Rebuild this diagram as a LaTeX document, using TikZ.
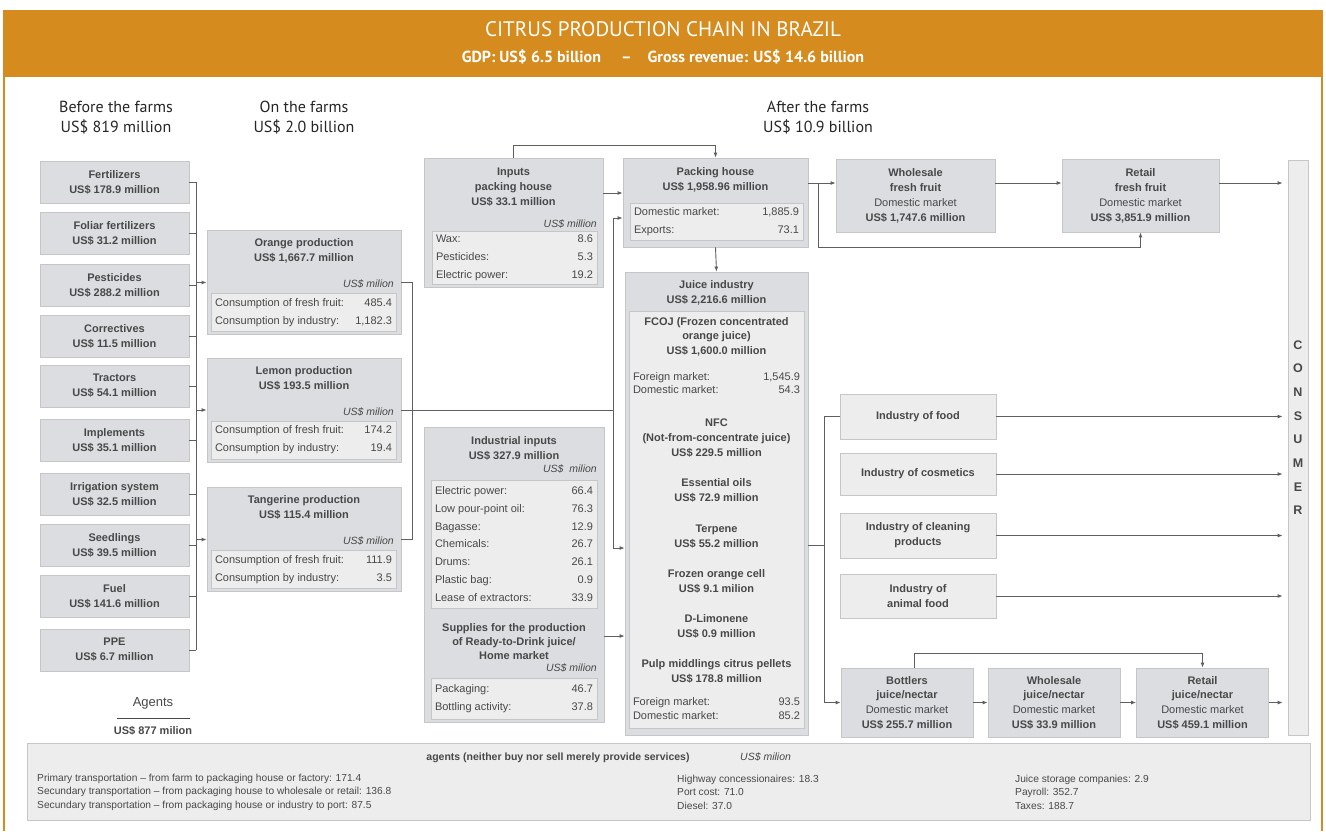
\documentclass[tikz,border=0pt]{standalone}
\usepackage{fontspec}
\setmainfont{Liberation Sans}
\newfontfamily\headfont{PT Sans}
\usetikzlibrary{arrows.meta, positioning, calc}
\definecolor{hdorange}{RGB}{213,139,30}
\definecolor{boxfill}{RGB}{219,221,224}
\definecolor{tabfill}{RGB}{237,237,237}
\definecolor{boxline}{RGB}{196,198,200}
\definecolor{txt}{RGB}{72,72,72}
\definecolor{wirec}{RGB}{95,95,95}
\newcommand{\trow}[3]{\makebox[#1]{#2\hfill #3}}

\begin{document}
\begin{tikzpicture}[x=1pt, y=-1pt,
  every node/.style={inner sep=0pt, align=center, text=txt, font=\fontsize{11}{15}\selectfont},
  box/.style={draw=boxline, fill=boxfill, line width=0.8pt},
  tab/.style={draw=boxline, fill=tabfill, line width=0.6pt, font=\fontsize{11}{18}\selectfont},
  lbox/.style={box, minimum width=149pt, minimum height=42pt, font=\bfseries\fontsize{11}{15}\selectfont},
  ibox/.style={draw=boxline, fill=tabfill, line width=0.8pt, minimum width=156pt, font=\bfseries\fontsize{11}{15}\selectfont},
  hd/.style={font=\bfseries\fontsize{11}{15}\selectfont},
  unit/.style={anchor=east, font=\itshape\fontsize{10.5}{12}\selectfont},
  wire/.style={draw=wirec, line width=0.9pt},
  arr/.style={wire, -{Latex[length=5pt,width=4pt]}},
  stage/.style={text=black!85, font=\headfont\fontsize{16}{20}\selectfont}]

\useasboundingbox (0,0) rectangle (1326,831);
\fill[white] (0,0) rectangle (1326,831);

% header
\fill[hdorange] (4,10) rectangle (1322,77);
\draw[hdorange, line width=2pt] (4,10) -- (4,831) (1322,10) -- (1322,831);
\node[text=white, font=\headfont\fontsize{21}{22}\selectfont] (title) at (663,29) {CITRUS PRODUCTION CHAIN IN BRAZIL};
\node[text=white, font=\headfont\bfseries\fontsize{16}{18}\selectfont] (sub) at (663,57) {GDP: US\$ 6.5 billion \quad–\quad Gross revenue: US\$ 14.6 billion};

\node[stage] (before) at (116,117.5) {Before the farms\\US\$ 819 million};
\node[stage] (onfarm) at (304,117.5) {On the farms\\US\$ 2.0 billion};
\node[stage] (after) at (818,117.5) {After the farms\\US\$ 10.9 billion};

% before the farms
\foreach \nm/\ttl/\val/\yy in {fert/Fertilizers/178.9/182, fol/Foliar fertilizers/31.2/233, pest/Pesticides/288.2/285, corr/Correctives/11.5/336, trac/Tractors/54.1/386, impl/Implements/35.1/440, irr/Irrigation system/32.5/494, seed/Seedlings/39.5/545, fuel/Fuel/141.6/596, ppe/PPE/6.7/650}
  \node[lbox] (\nm) at (114.5,\yy) {\ttl\\US\$ \val\ million};

\node (agt) at (153,703) [font=\fontsize{13}{13}\selectfont] {Agents};
\draw[txt, line width=0.6pt] (117,718) -- (190,718);
\node[hd] (agtv) at (153,731) {US\$ 877 milion};

% on the farms
\foreach \nm/\ttl/\val/\yy/\fr/\ind in {{orange/Orange/1,667.7/282.5/485.4/1,182.3}, {lemon/Lemon/193.5/410/174.2/19.4}, {tang/Tangerine/115.4/539.5/111.9/3.5}} {
  \node[box, minimum width=194pt, minimum height=104pt] (\nm) at (304,\yy) {};
  \node[hd] (\nm-h) at (304,\yy-32) {\ttl\ production\\US\$ \val\ million};
  \node[unit] (\nm-u) at (394,\yy+1.5) {US\$ milion};
  \node[tab, minimum width=185pt, minimum height=38pt] (\nm-t) at (303.5,\yy+30) {\trow{177pt}{Consumption of fresh fruit:}{\fr}\\\trow{177pt}{Consumption by industry:}{\ind}};
}

\coordinate (lbus) at (196,0);
\foreach \nm in {fert,fol,pest,corr,trac,impl,irr,seed,fuel,ppe}
  \draw[wire] (\nm.east) -- (\nm.east -| lbus);
\draw[wire] (fert.east -| lbus) -- (ppe.east -| lbus);
\foreach \nm in {orange,lemon,tang}
  \draw[arr] (\nm.west -| lbus) -- (\nm.west);

% after the farms
\node[box, minimum width=179pt, minimum height=129pt] (ipack) at (513.5,222.5) {};
\node[hd] (ipack-h) at (513.5,187) {Inputs\\packing house\\US\$ 33.1 million};
\node[unit] (ipack-u) at (597,224) {US\$ million};
\node[tab, minimum width=165pt, minimum height=53pt] (ipack-t) at (514.5,258) {\trow{157pt}{Wax:}{8.6}\\\trow{157pt}{Pesticides:}{5.3}\\\trow{157pt}{Electric power:}{19.2}};

\node[box, minimum width=185pt, minimum height=89pt] (pack) at (715.5,202.5) {};
\node[hd] (pack-h) at (715.5,179.5) {Packing house\\US\$ 1,958.96 million};
\node[tab, minimum width=173pt, minimum height=37pt] (pack-t) at (716.5,221.5) {\trow{165pt}{Domestic market:}{1,885.9}\\\trow{165pt}{Exports:}{73.1}};

\node[box, minimum width=180pt, minimum height=295pt] (ind) at (514,574.5) {};
\node[hd] (ind-h) at (514,448) {Industrial inputs\\US\$ 327.9 million};
\node[unit] (ind-u) at (597,469) {US\$ \ milion};
\node[tab, minimum width=166pt, minimum height=128pt, font=\fontsize{11}{17.8}\selectfont] (ind-t) at (514,544) {\trow{158pt}{Electric power:}{66.4}\\\trow{158pt}{Low pour-point oil:}{76.3}\\\trow{158pt}{Bagasse:}{12.9}\\\trow{158pt}{Chemicals:}{26.7}\\\trow{158pt}{Drums:}{26.1}\\\trow{158pt}{Plastic bag:}{0.9}\\\trow{158pt}{Lease of extractors:}{33.9}};
\node[hd, font=\bfseries\fontsize{11}{14}\selectfont] (sup-h) at (514,642) {Supplies for the production\\of Ready-to-Drink juice/\\Home market};
\node[unit] (sup-u) at (597,668) {US\$ milion};
\node[tab, minimum width=166pt, minimum height=41pt] (sup-t) at (514,698.5) {\trow{158pt}{Packaging:}{46.7}\\\trow{158pt}{Bottling activity:}{37.8}};

\node[box, minimum width=183pt, minimum height=463pt] (juice) at (716.5,503.5) {};
\node[hd] (juice-h) at (716.5,292.5) {Juice industry\\US\$ 2,216.6 million};
\node[tab, minimum width=175pt, minimum height=417pt] (juice-t) at (716.5,519.5) {};
\node[hd, font=\bfseries\fontsize{11}{14.5}\selectfont] (fcoj) at (716.5,336.5) {FCOJ (Frozen concentrated\\orange juice)\\US\$ 1,600.0 million};
\node[font=\fontsize{11}{12.5}\selectfont] (fcoj-m) at (716.5,383) {\trow{167pt}{Foreign market:}{1,545.9}\\\trow{167pt}{Domestic market:}{54.3}};
\node[hd] (nfc) at (716.5,438) {NFC\\(Not-from-concentrate juice)\\US\$ 229.5 million};
\foreach \nm/\ttl/\val/\yy in {ess/Essential oils/72.9 million/490.5, terp/Terpene/55.2 million/536.5, froz/Frozen orange cell/9.1 milion/581.5, dlim/D-Limonene/0.9 million/626.5, pulp/Pulp middlings citrus pellets/178.8 million/671.5}
  \node[hd] (\nm) at (716.5,\yy) {\ttl\\US\$ \val};
\node[font=\fontsize{11}{14}\selectfont] (pulp-m) at (716.5,709) {\trow{167pt}{Foreign market:}{93.5}\\\trow{167pt}{Domestic market:}{85.2}};

\node[box, minimum width=159pt, minimum height=73pt] (whf) at (915.5,195.5) {\textbf{Wholesale}\\\textbf{fresh fruit}\\Domestic market\\\textbf{US\$ 1,747.6 million}};
\node[box, minimum width=157pt, minimum height=73pt] (rtf) at (1140.5,195.5) {\textbf{Retail}\\\textbf{fresh fruit}\\Domestic market\\\textbf{US\$ 3,851.9 million}};

\node[draw=boxline, fill=tabfill, line width=0.8pt, minimum width=20pt, minimum height=575pt] (cons) at (1298,447.5) {};
\foreach \ch [count=\i] in {C,O,N,S,U,M,E,R}
  \node[font=\bfseries\fontsize{12.5}{12.5}\selectfont] (cons-\i) at (1298,321+23.7*\i) {\ch};

\foreach \nm/\txt/\yy/\hh in {food/Industry of food/416.5/45, cosm/Industry of cosmetics/474/42, clean/Industry of cleaning\\products/535.5/45, anim/Industry of\\animal food/596/44}
  \node[ibox, minimum height=\hh pt] (\nm) at (918,\yy) {\txt};

\foreach \nm/\ttl/\val/\xx in {bott/Bottlers/255.7/907, wjuice/Wholesale/33.9/1054, rjuice/Retail/459.1/1202.5}
  \node[box, minimum width=132pt, minimum height=69pt, font=\fontsize{11}{14.7}\selectfont] (\nm) at (\xx,702.5) {\textbf{\ttl}\\\textbf{juice/nectar}\\Domestic market\\\textbf{US\$ \val\ million}};

% connectors
\coordinate (rbus) at (412,0);
\draw[wire] (orange.east) -| (rbus |- tang.east) -- (tang.east);
\coordinate (jtop) at (613,218);
\coordinate (jbot) at (613,548);
\draw[wire] (lemon.east) -- (lemon.east -| jtop);
\draw[wire] (jtop) -- (jbot);
\draw[arr] (jtop) -- (jtop -| pack.west);
\draw[arr] (jbot) -- (jbot -| juice.west);

\coordinate (pin) at (0,193);
\draw[arr] (ipack.east |- pin) -- (pack.west |- pin);
\draw[arr] (ipack.north) -- ++(0,-12) -| (pack.north);
\draw[arr] (pack.south) -- (juice.north);
\coordinate (sin) at (0,636);
\draw[arr] (ind.east |- sin) -- (juice.west |- sin);

\coordinate (fsplit) at (818,183);
\draw[wire] (pack.east |- fsplit) -- (fsplit);
\draw[arr] (fsplit) -- (fsplit -| whf.west);
\draw[arr] (fsplit) -- ++(0,64) -| (rtf.south);
\draw[arr] (whf.east |- fsplit) -- (rtf.west |- fsplit);
\draw[arr, shorten >=5pt] (rtf.east |- fsplit) -- (cons.west |- fsplit);

\coordinate (ibus) at (824,545);
\draw[wire] (juice.east |- ibus) -- (ibus);
\draw[wire] (food.west) -- (food.west -| ibus) -- (bott.west -| ibus);
\draw[arr] (bott.west -| ibus) -- (bott.west);
\foreach \nm in {food,cosm,clean,anim}
  \draw[arr, shorten >=5pt] (\nm.east) -- (\nm.east -| cons.west);

\draw[arr] (bott) -- (wjuice);
\draw[arr] (wjuice) -- (rjuice);
\draw[arr, shorten >=5pt] (rjuice.east) -- (rjuice.east -| cons.west);
\draw[arr] ([xshift=7pt]bott.north) -- ++(0,-14) -| (rjuice.north);

% agents
\node[draw=boxline, fill=tabfill, line width=1pt, minimum width=1283pt, minimum height=77pt] (svc) at (668.5,781.5) {};
\node[font=\bfseries\fontsize{10.5}{11}\selectfont] (svc-h) at (558,758) {agents (neither buy nor sell merely provide services)};
\node[anchor=west, font=\itshape\fontsize{10.5}{11}\selectfont] (svc-u) at (740,757) {US\$ milion};
\node[anchor=west, align=left, font=\fontsize{10.2}{13.5}\selectfont] (svc-a) at (37,792) {Primary transportation -- from farm to packaging house or factory: 171.4\\Secundary transportation -- from packaging house to wholesale or retail: 136.8\\Secundary transportation -- from packaging house or industry to port: 87.5};
\node[anchor=west, align=left, font=\fontsize{10.2}{13.5}\selectfont] (svc-b) at (677,792) {Highway concessionaires: 18.3\\Port cost: 71.0\\Diesel: 37.0};
\node[anchor=west, align=left, font=\fontsize{10.2}{13.5}\selectfont] (svc-c) at (1015,792) {Juice storage companies: 2.9\\Payroll: 352.7\\Taxes: 188.7};
\end{tikzpicture}
\end{document}
